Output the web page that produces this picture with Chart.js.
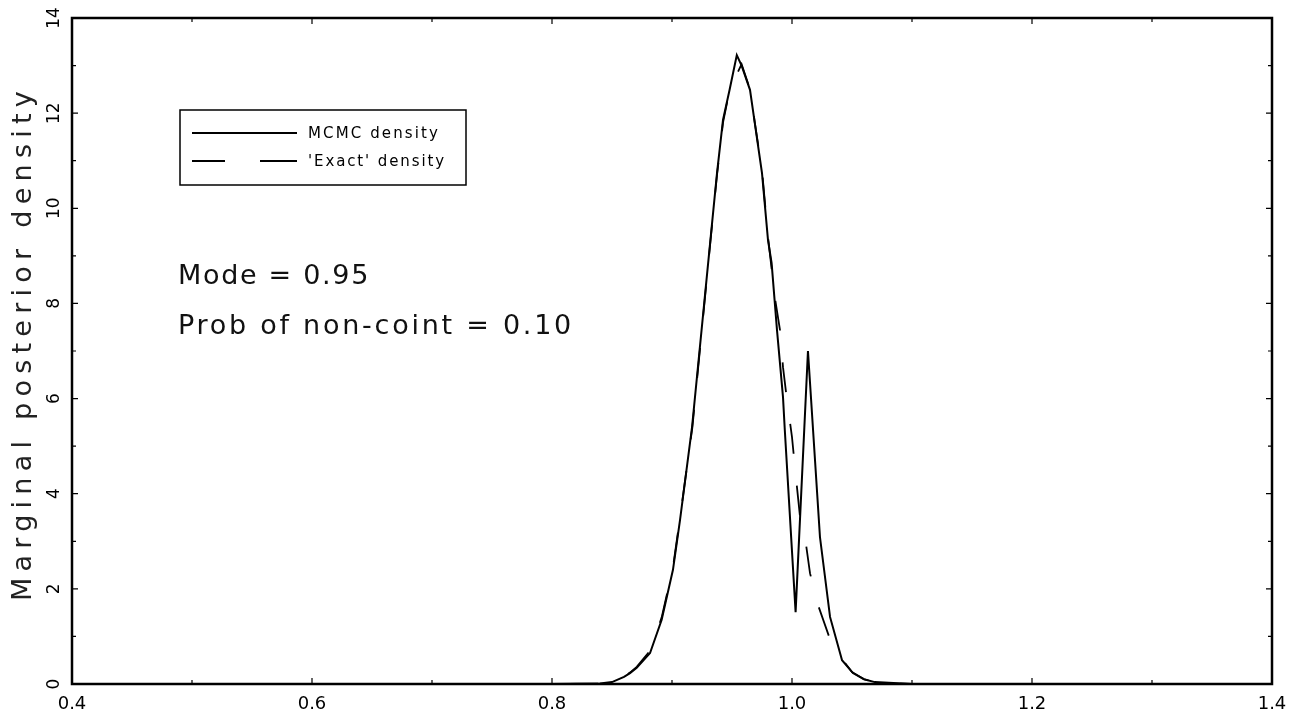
<!DOCTYPE html>
<html>
<head>
<meta charset="utf-8">
<script src="https://cdn.jsdelivr.net/npm/chart.js@4.4.1/dist/chart.umd.min.js"></script>
<style>
  html, body { margin: 0; padding: 0; background: #fff; }
  canvas { display: block; }
</style>
</head>
<body>
<canvas id="chart" width="1299" height="717"></canvas>
<script>
// values
const mcmcX = [0.40, 0.60, 0.80, 0.84, 0.85, 0.86, 0.865, 0.8706, 0.8817, 0.8914, 0.9008, 0.9067, 0.9167, 0.932, 0.9375, 0.9425, 0.948, 0.954, 0.958, 0.965, 0.969, 0.975, 0.98, 0.983, 0.9875, 0.9925, 0.994, 1.003, 1.0133, 1.0233, 1.0317, 1.0417, 1.0508, 1.06, 1.069, 1.10, 1.40];
const mcmcY = [0, 0, 0, 0.01, 0.04, 0.15, 0.23, 0.34, 0.65, 1.35, 2.40, 3.45, 5.40, 9.33, 10.74, 11.86, 12.49, 13.22, 13.00, 12.49, 11.79, 10.74, 9.33, 8.85, 7.44, 6.03, 5.34, 1.51, 7.00, 3.09, 1.41, 0.50, 0.23, 0.10, 0.04, 0, 0];

const exactX = [0.40, 0.80, 0.84, 0.85, 0.86, 0.865, 0.8706, 0.8817, 0.8914, 0.9008, 0.9067, 0.917, 0.932, 0.9375, 0.9425, 0.948, 0.958, 0.965, 0.969, 0.975, 0.98, 0.9858, 0.99, 0.9925, 0.9958, 1.0, 1.0025, 1.0067, 1.0108, 1.015, 1.0217, 1.0325, 1.0425, 1.05, 1.06, 1.07, 1.10, 1.40];
const exactY = [0, 0, 0.01, 0.04, 0.15, 0.24, 0.36, 0.70, 1.40, 2.45, 3.50, 5.40, 9.30, 10.70, 11.80, 12.49, 13.03, 12.50, 11.80, 10.80, 9.40, 8.11, 7.44, 6.66, 5.97, 5.19, 4.54, 3.51, 3.09, 2.33, 1.66, 0.88, 0.50, 0.25, 0.10, 0.03, 0, 0];

const xTicks = [0.4, 0.6, 0.8, 1.0, 1.2, 1.4];
const xMinorTicks = [0.5, 0.7, 0.9, 1.1, 1.3];
const yTicks = [0, 2, 4, 6, 8, 10, 12, 14];
const yMinorTicks = [1, 3, 5, 7, 9, 11, 13];

const seriesNames = ['MCMC density', "'Exact' density"];
const yTitle = 'Marginal posterior density';
const notes = ['Mode = 0.95', 'Prob of non-coint = 0.10'];

const toPoints = (xs, ys) => xs.map((x, i) => ({ x: x, y: ys[i] }));

// draw text stretched to a given width by letter spacing
function spacedText(ctx, text, x, y, width) {
    ctx.letterSpacing = '0px';
    const w = ctx.measureText(text).width;
    const ls = Math.max(0, (width - w) / text.length);
    ctx.letterSpacing = ls + 'px';
    ctx.fillText(text, x, y);
    ctx.letterSpacing = '0px';
}

const decor = {
    id: 'decor',
    afterDraw(chart) {
        const { ctx, chartArea: a, scales } = chart;
        const xs = scales.x, ys = scales.y;
        ctx.save();
        ctx.strokeStyle = '#000';
        ctx.fillStyle = '#000';

        // frame
        ctx.lineWidth = 2.5;
        ctx.strokeRect(a.left, a.top, a.right - a.left, a.bottom - a.top);

        // inward ticks on all four sides
        ctx.lineWidth = 1.2;
        ctx.beginPath();
        const xt = (v, len) => {
            const px = xs.getPixelForValue(v);
            ctx.moveTo(px, a.bottom); ctx.lineTo(px, a.bottom - len);
            ctx.moveTo(px, a.top); ctx.lineTo(px, a.top + len);
        };
        const yt = (v, len) => {
            const py = ys.getPixelForValue(v);
            ctx.moveTo(a.left, py); ctx.lineTo(a.left + len, py);
            ctx.moveTo(a.right, py); ctx.lineTo(a.right - len, py);
        };
        xTicks.forEach(v => xt(v, 6));
        xMinorTicks.forEach(v => xt(v, 4));
        yTicks.forEach(v => yt(v, 6));
        yMinorTicks.forEach(v => yt(v, 4));
        ctx.stroke();

        // x tick labels
        ctx.font = '18px "DejaVu Sans"';
        ctx.textAlign = 'center';
        ctx.textBaseline = 'middle';
        xTicks.forEach(v => {
            ctx.fillText(v.toFixed(1), xs.getPixelForValue(v), 704);
        });

        // rotated y tick labels
        ctx.font = '17px "DejaVu Sans"';
        yTicks.forEach(v => {
            ctx.save();
            ctx.translate(55, ys.getPixelForValue(v));
            ctx.rotate(-Math.PI / 2);
            ctx.fillText(String(v), 0, 0);
            ctx.restore();
        });

        // y axis title
        ctx.save();
        ctx.fillStyle = '#222';
        ctx.font = '27px "DejaVu Sans"';
        ctx.translate(24, 343);
        ctx.rotate(-Math.PI / 2);
        ctx.textAlign = 'left';
        spacedText(ctx, yTitle, -258, 0, 516);
        ctx.restore();

        // legend box
        ctx.lineWidth = 1.5;
        ctx.strokeRect(180, 110, 286, 75);
        ctx.lineWidth = 1.8;
        ctx.beginPath();
        ctx.moveTo(192, 133); ctx.lineTo(297, 133);
        ctx.moveTo(192, 161); ctx.lineTo(225, 161);
        ctx.moveTo(260, 161); ctx.lineTo(297, 161);
        ctx.stroke();
        ctx.font = '15px "DejaVu Sans"';
        ctx.textAlign = 'left';
        ctx.textBaseline = 'middle';
        spacedText(ctx, seriesNames[0], 308, 134, 132);
        spacedText(ctx, seriesNames[1], 308, 162, 138);

        // annotations
        ctx.fillStyle = '#111';
        ctx.font = '27px "DejaVu Sans"';
        spacedText(ctx, notes[0], 178, 277, 192);
        spacedText(ctx, notes[1], 178, 327, 396);

        ctx.restore();
    }
};

new Chart(document.getElementById('chart'), {
    type: 'line',
    data: {
        datasets: [
            {
                label: seriesNames[0],
                data: toPoints(mcmcX, mcmcY),
                borderColor: '#000',
                borderWidth: 2,
                pointRadius: 0,
                tension: 0,
                fill: false
            },
            {
                label: seriesNames[1],
                data: toPoints(exactX, exactY),
                borderColor: '#000',
                borderWidth: 1.8,
                borderDash: [30, 32],
                pointRadius: 0,
                tension: 0,
                fill: false
            }
        ]
    },
    options: {
        responsive: false,
        animation: false,
        devicePixelRatio: 1,
        layout: { padding: { top: 18, right: 27, left: 0, bottom: 0 } },
        plugins: {
            legend: { display: false },
            tooltip: { enabled: false },
            title: { display: false }
        },
        scales: {
            x: {
                type: 'linear',
                min: 0.4,
                max: 1.4,
                afterFit: s => { s.height = 33; },
                grid: { display: false, drawTicks: false },
                border: { display: false },
                ticks: { display: false, stepSize: 0.2 }
            },
            y: {
                type: 'linear',
                min: 0,
                max: 14,
                afterFit: s => { s.width = 72; },
                grid: { display: false, drawTicks: false },
                border: { display: false },
                ticks: { display: false, stepSize: 2 }
            }
        }
    },
    plugins: [decor]
});
</script>
</body>
</html>
